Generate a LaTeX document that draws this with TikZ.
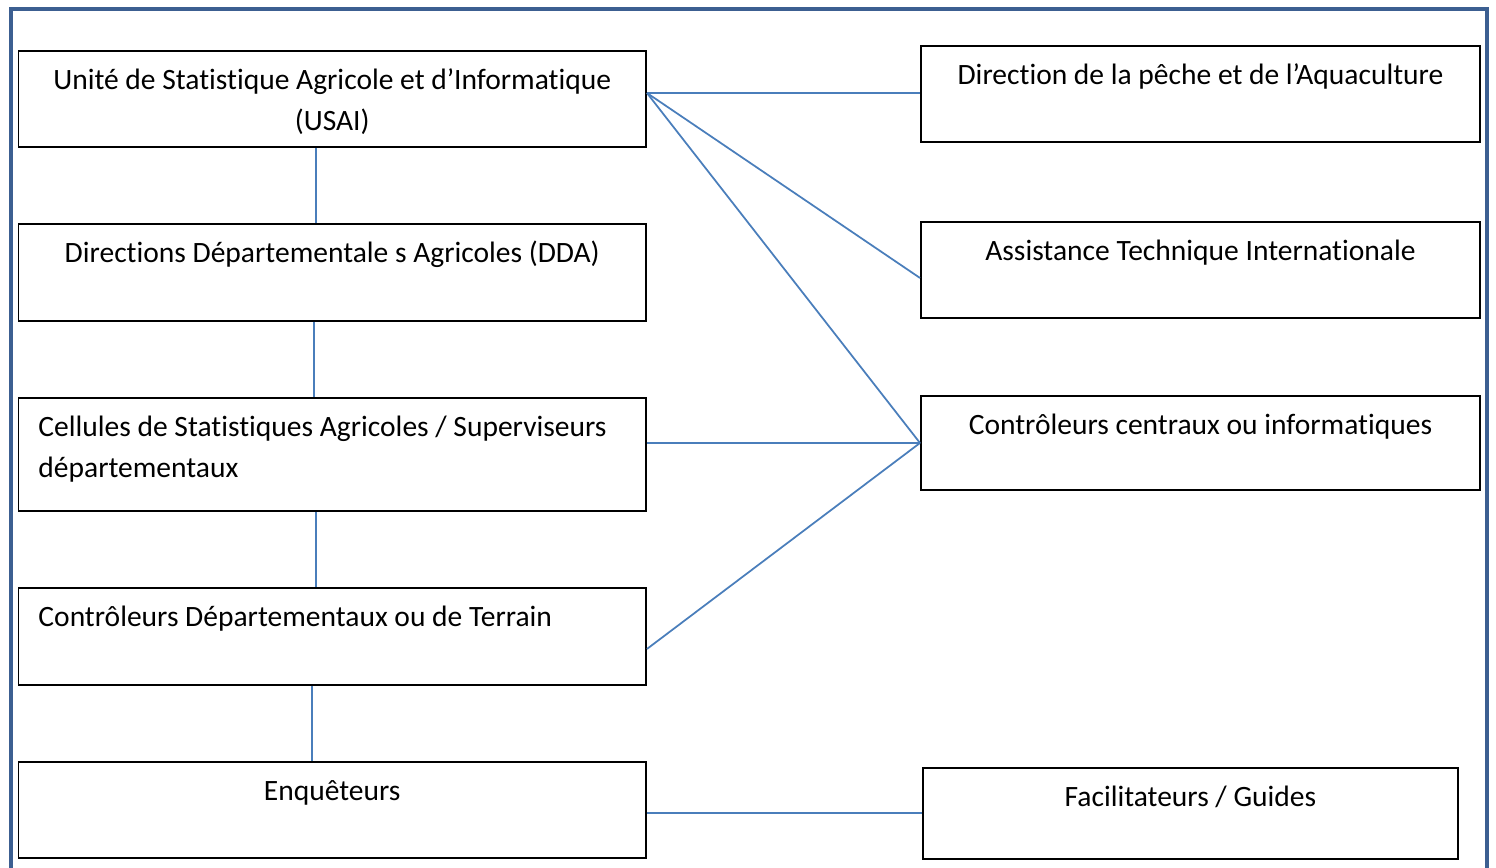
\documentclass[tikz,border=0pt]{standalone}
\usepackage{fontspec}
\setmainfont{Carlito}[Ligatures=NoCommon]
\usetikzlibrary{calc}
\definecolor{framecol}{HTML}{3C5F91}
\definecolor{linkcol}{HTML}{4A7EBB}
% text of a box: width, height, alignment, lines
\newcommand{\boxtext}[4]{\parbox[c][#2][t]{#1}{#3\rule{0pt}{0.78cm}#4}}
\newcommand{\leftpad}{\raggedright\leftskip=0.4cm}
\tikzset{
  box/.style={draw=black, line width=1.1pt, inner sep=0pt, anchor=north west,
    font=\fontsize{16.8}{23.3}\selectfont},
  link/.style={draw=linkcol, line width=1pt}
}

\begin{document}
\begin{tikzpicture}
\useasboundingbox (0,0) rectangle (29.92,-17.34);
% outer frame, open at the bottom
\draw[framecol, line width=2.3pt] (0.22,-17.6) -- (0.22,-0.18) -- (29.74,-0.18) -- (29.74,-17.6);

% left column
\node[box] (usai) at (0.35,-1.00) {\boxtext{12.55cm}{1.92cm}{\centering}{Unité de Statistique Agricole et d’Informatique\\(USAI)}};
\node[box] (dda) at (0.35,-4.46) {\boxtext{12.55cm}{1.94cm}{\centering}{Directions Départementale s Agricoles (DDA)}};
\node[box] (cell) at (0.35,-7.94) {\boxtext{12.55cm}{2.26cm}{\leftpad}{Cellules de Statistiques Agricoles / Superviseurs\\départementaux}};
\node[box] (ctrl) at (0.35,-11.74) {\boxtext{12.55cm}{1.94cm}{\leftpad}{Contrôleurs Départementaux ou de Terrain}};
\node[box] (enq) at (0.35,-15.22) {\boxtext{12.55cm}{1.92cm}{\centering}{Enquêteurs}};

% right column
\node[box] (peche) at (18.40,-0.90) {\boxtext{11.18cm}{1.92cm}{\centering}{Direction de la pêche et de l’Aquaculture}};
\node[box] (assist) at (18.40,-4.42) {\boxtext{11.18cm}{1.92cm}{\centering}{Assistance Technique Internationale}};
\node[box] (centr) at (18.40,-7.90) {\boxtext{11.18cm}{1.88cm}{\centering}{Contrôleurs centraux ou informatiques}};
\node[box] (facil) at (18.44,-15.34) {\boxtext{10.70cm}{1.82cm}{\centering}{Facilitateurs / Guides}};

% vertical links
\foreach \a/\b/\s in {usai/dda/-0.33, dda/cell/-0.37, cell/ctrl/-0.33, ctrl/enq/-0.41}
  \draw[link] ([xshift=\s cm]\a.south) -- ([xshift=\s cm]\b.north);

\coordinate (hub) at ([yshift=0.12cm]usai.east);
\draw[link] (hub) -- (hub -| peche.west);
\draw[link] (hub) -- ([yshift=-0.16cm]assist.west);
\draw[link] (hub) -- (centr.west);
\draw[link] (cell.east |- centr.west) -- (centr.west);
\draw[link] ([yshift=-0.25cm]ctrl.east) -- (centr.west);
\draw[link] ([yshift=-0.06cm]enq.east) -- ([yshift=-0.06cm]enq.east -| facil.west);
\end{tikzpicture}
\end{document}
